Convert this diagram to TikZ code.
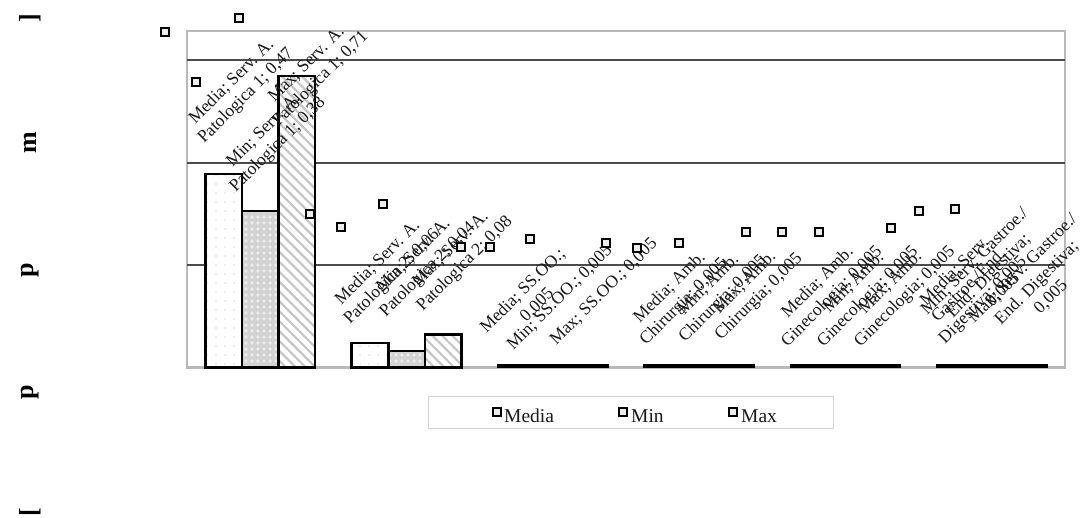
\documentclass[tikz,border=0pt]{standalone}
\usepackage{fontspec}
\setmainfont{Liberation Serif}
\usetikzlibrary{patterns.meta}
\begin{document}
\begin{tikzpicture}[x={(1pt,0)},y={(0,-1pt)},
  lbl/.style={rotate=45,align=center,inner sep=0pt,text=black!90,font=\fontsize{17.5}{20}\selectfont},
  mk/.style={draw=black,line width=2.4pt,fill=gray!15,rectangle,inner sep=0pt,minimum size=7.5pt},
  barline/.style={draw=black,line width=2.6pt},
  thinbar/.style={fill=black},
  mediabar/.style={barline,preaction={fill=white},pattern={Dots[distance=9pt,radius=0.6pt]},pattern color=gray!60},
  minbar/.style={barline,preaction={fill=gray!35},pattern={Dots[distance=6pt,radius=1.8pt]},pattern color=white!85!gray},
  maxbar/.style={barline,preaction={fill=white},pattern={Lines[angle=-45,distance=7pt,line width=2.2pt]},pattern color=gray!45},
  grid/.style={draw=black!70,line width=1.3pt},
  legtext/.style={anchor=base west,inner sep=0pt,font=\fontsize{19.5}{22}\selectfont,text=black!90},
  axl/.style={rotate=90,inner sep=0pt,font=\fontsize{26}{30}\selectfont\bfseries}]
\useasboundingbox[fill=white] (0,0) rectangle (1087,517);
% axis title letters
\node[axl] (t5) at (30,18) {]};
\node[axl] (t4) at (30,143) {m};
\node[axl] (t3) at (30,270) {p};
\node[axl] (t2) at (30,392) {p};
\node[axl] (t1) at (30,512) {[};
% frame and gridlines
\draw[draw=gray!55,line width=2.2pt] (187,31) rectangle (1065,367.5);
\draw[grid] (187,60) -- (1065,60);
\draw[grid] (187,163) -- (1065,163);
\draw[grid] (187,265) -- (1065,265);
% bars
\draw[mediabar] (205.3,367.5) rectangle (241.9,174);
\draw[minbar]   (241.9,367.5) rectangle (278.5,211);
\draw[maxbar]   (278.5,367.5) rectangle (315.1,76);
\draw[mediabar] (351.6,367.5) rectangle (388.2,342.8);
\draw[minbar]   (388.2,367.5) rectangle (424.8,351);
\draw[maxbar]   (424.8,367.5) rectangle (461.4,334.6);
\foreach \i in {2,...,5}{
  \pgfmathsetmacro{\xa}{205.3+146.3*\i}
  \path[thinbar] ({\xa-1},364.2) rectangle ({\xa+110.8},368.4);
}
% data labels
\node[lbl] (l1) at (239,89) {Media; Serv. A.\\Patologica 1; 0,47};
\node[lbl] (l2) at (271,138) {Min; Serv. A.\\Patologica 1; 0,38};
\node[lbl] (l3) at (314,72) {Max; Serv. A.\\Patologica 1; 0,71};
\node[lbl] (l4) at (385,270) {Media; Serv. A.\\Patologica 2; 0,06};
\node[lbl] (l5) at (421,263) {Min; Serv. A.\\Patologica 2; 0,04};
\node[lbl] (l6) at (458,257) {Max; Serv. A.\\Patologica 2; 0,08};
\node[lbl] (l7) at (530,298) {Media; SS.OO.;\\0,005};
\node[lbl] (l8) at (560,298) {Min; SS.OO.; 0,005};
\node[lbl] (l9) at (604,292) {Max; SS.OO.; 0,005};
\node[lbl] (l10) at (677,295) {Media; Amb.\\Chirurgia; 0,005};
\node[lbl] (l11) at (716,292) {Min; Amb.\\Chirurgia; 0,005};
\node[lbl] (l12) at (752,290) {Max; Amb.\\Chirurgia; 0,005};
\node[lbl] (l13) at (825,290) {Media; Amb.\\Ginecologia; 0,005};
\node[lbl] (l14) at (861,290) {Min; Amb.\\Ginecologia; 0,005};
\node[lbl] (l15) at (898,290) {Max; Amb.\\Ginecologia; 0,005};
\node[lbl] (l16) at (969,286) {Media; Serv.\\Gastroe./End.\\Digestiva; 0,005};
\node[lbl] (l17) at (989,276) {Min; Serv. Gastroe./\\End. Digestiva;\\0,005};
\node[lbl] (l18) at (1037,283) {Max; Serv. Gastroe./\\End. Digestiva;\\0,005};
% markers
\node[mk] (m1) at (165,32) {};
\node[mk] (m2) at (239,18) {};
\node[mk] (m3) at (196,82) {};
\node[mk] (m4) at (310,214) {};
\node[mk] (m5) at (341,227) {};
\node[mk] (m6) at (383,204) {};
\node[mk] (m7) at (461,247) {};
\node[mk] (m8) at (490,247) {};
\node[mk] (m9) at (530,239) {};
\node[mk] (m10) at (606,243) {};
\node[mk] (m11) at (637,248) {};
\node[mk] (m12) at (679,243) {};
\node[mk] (m13) at (746,232) {};
\node[mk] (m14) at (782,232) {};
\node[mk] (m15) at (819,232) {};
\node[mk] (m16) at (891,228) {};
\node[mk] (m17) at (919,211) {};
\node[mk] (m18) at (955,209) {};
% legend
\draw[draw=gray!35,line width=1pt] (428,396) rectangle (833,428);
\node[mk] (g1) at (497,412) {};
\node[legtext] (gt1) at (504,422) {Media};
\node[mk] (g2) at (623,412) {};
\node[legtext] (gt2) at (631,422) {Min};
\node[mk] (g3) at (733,412) {};
\node[legtext] (gt3) at (741,422) {Max};
\end{tikzpicture}
\end{document}
